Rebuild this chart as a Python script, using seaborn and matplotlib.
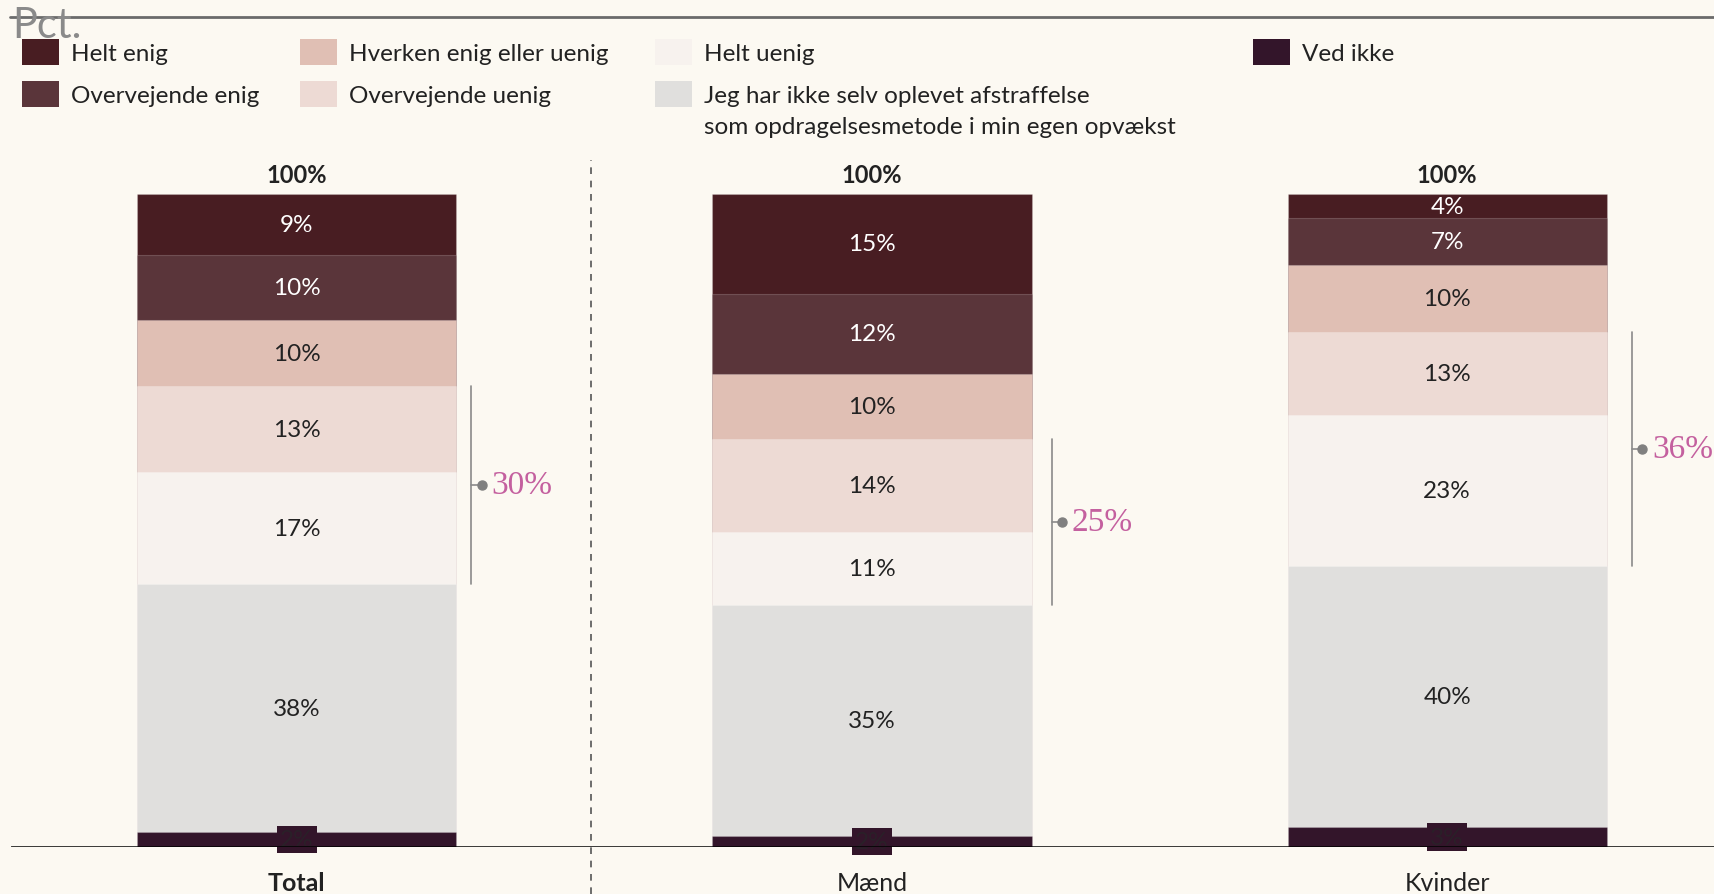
import numpy as np
import pandas as pd
import matplotlib
matplotlib.use("Agg")
import matplotlib.pyplot as plt
from matplotlib.patches import Rectangle
from matplotlib.lines import Line2D
import seaborn as sns

# ---------------- data ----------------
categories = ["Total", "Mænd", "Kvinder"]
series_names = ["Helt enig", "Overvejende enig", "Hverken enig eller uenig",
                "Overvejende uenig", "Helt uenig",
                "Jeg har ikke selv oplevet afstraffelse\nsom opdragelsesmetode i min egen opvækst",
                "Ved ikke"]
# values per series (top of stack first), one per category
helt_enig = [9.4, 15.3, 3.7]
overvejende_enig = [9.9, 12.2, 7.2]
hverken = [10.1, 10.0, 10.2]
overvejende_uenig = [13.2, 14.2, 12.7]
helt_uenig = [17.2, 11.2, 23.2]
ikke_oplevet = [37.9, 35.4, 40.0]
ved_ikke = [2.3, 1.7, 3.0]
totals_label = ["100%", "100%", "100%"]
bracket_labels = ["30%", "25%", "36%"]

series_values = [helt_enig, overvejende_enig, hverken, overvejende_uenig,
                 helt_uenig, ikke_oplevet, ved_ikke]
colors = ["#481d22", "#5a353a", "#e0bfb4", "#eddad4", "#f7f2ee", "#e0dfdd", "#33152a"]
text_colors = ["white", "white", "#222222", "#222222", "#222222", "#222222", "#222222"]

BG = "#fcf9f2"
PINK = "#c4609f"
FONT = "Lato"

sns.set_theme(style="white")
plt.rcParams["font.family"] = [FONT, "DejaVu Sans"]
plt.rcParams["figure.facecolor"] = BG
plt.rcParams["axes.facecolor"] = BG

W, H = 1714, 895
fig = plt.figure(figsize=(W / 100, H / 100), dpi=100)
ax = fig.add_axes([11 / W, 1 - 848 / H, 1 - 11 / W, (848 - 195) / H])
ax.set_facecolor(BG)

# stacked from bottom: reverse order
stack_order = list(range(len(series_values)))[::-1]  # ved ikke first (bottom)
vals = np.array(series_values)  # shape (7, 3)
cum_bottom = {}
running = np.zeros(len(categories))
for s in stack_order:
    cum_bottom[s] = running.copy()
    running = running + vals[s]

# draw tallest cumulative first so later (shorter) layers overlay
bar_w = 0.555
for s in range(len(series_values)):
    top = cum_bottom[s] + vals[s]
    df = pd.DataFrame({"cat": categories, "top": top})
    sns.barplot(data=df, x="cat", y="top", order=categories, color=colors[s],
                width=bar_w, saturation=1, ax=ax, edgecolor=(1, 1, 1, 0.18),
                linewidth=0.8)

LABEL_FS = 17.5
# segment labels
for s in range(len(series_values) - 1):
    for i in range(len(categories)):
        v = vals[s][i]
        ax.text(i, cum_bottom[s][i] + v / 2, f"{round(v):.0f}%", ha="center",
                va="center", fontsize=LABEL_FS, color=text_colors[s])
# ved ikke labels with box
for i in range(len(categories)):
    v = vals[6][i]
    ax.text(i, cum_bottom[6][i] + v / 2, f"{round(v):.0f}%", ha="center",
            va="center", fontsize=LABEL_FS, color="#2a2028",
            bbox=dict(facecolor=colors[6], edgecolor="none", pad=2.5))

# totals above bars
for i in range(len(categories)):
    ax.annotate(totals_label[i], (i, 100), xytext=(0, 14), textcoords="offset points",
                ha="center", va="center", fontsize=17, fontweight="bold", color="#222222")

# brackets over overvejende uenig + helt uenig
bx_off = [0.026, 0.035, 0.044]
for i in range(len(categories)):
    y0 = cum_bottom[4][i]
    y1 = cum_bottom[3][i] + vals[3][i]
    bx = i + bar_w / 2 + bx_off[i]
    ym = (y0 + y1) / 2
    ax.plot([bx, bx], [y0, y1], color="#8a8a8a", lw=1.2, clip_on=False)
    ax.plot([bx, bx + 0.018], [ym, ym], color="#8a8a8a", lw=1.2, clip_on=False)
    ax.plot([bx + 0.018], [ym], marker="o", ms=6.5, color="#808080", clip_on=False)
    ax.text(bx + 0.035, ym, bracket_labels[i], ha="left", va="center",
            fontsize=24, color=PINK, family="Liberation Serif")

ax.set_xlim(-0.497, 2.464)
ax.set_ylim(0, 100)
ax.axhline(0, color="black", lw=1.8, zorder=5)
for sp in ax.spines.values():
    sp.set_visible(False)
ax.set_yticks([])
ax.set_ylabel("")
ax.set_xlabel("")
ax.set_xticks(range(len(categories)))
ax.set_xticklabels(categories, fontsize=18, color="#222222")
ax.get_xticklabels()[0].set_fontweight("bold")
ax.tick_params(axis="x", length=0, pad=17)

# dashed divider
fig.add_artist(Line2D([591 / W, 591 / W], [0, 1 - 161 / H], color="#555555",
                      lw=1.2, ls=(0, (4, 4))))
# top rule
fig.add_artist(Line2D([10 / W, 1], [1 - 18 / H, 1 - 18 / H], color="#6b6b6b", lw=2))
fig.text(12 / W, 1 - 26 / H, "Pct.", fontsize=30, color="#8a8a8a", ha="left", va="center")

# legend
leg_x = [22, 300, 655, 1253]
leg_y = [53, 95]
line_step = 31
slots = [(0, 0), (0, 1), (1, 0), (1, 1), (2, 0), (2, 1), (3, 0)]
for s, (c, r) in enumerate(slots):
    x = leg_x[c]
    y = leg_y[r]
    fig.add_artist(Rectangle((x / W, 1 - (y + 13) / H), 37 / W, 26 / H,
                             facecolor=colors[s], edgecolor="none"))
    lines = series_names[s].split("\n")
    for k, line in enumerate(lines):
        fig.text((x + 49) / W, 1 - (y + 8 + k * line_step) / H, line, fontsize=17.5,
                 color="#222222", ha="left", va="baseline")

fig.savefig("out.png", dpi=100, facecolor=BG)
